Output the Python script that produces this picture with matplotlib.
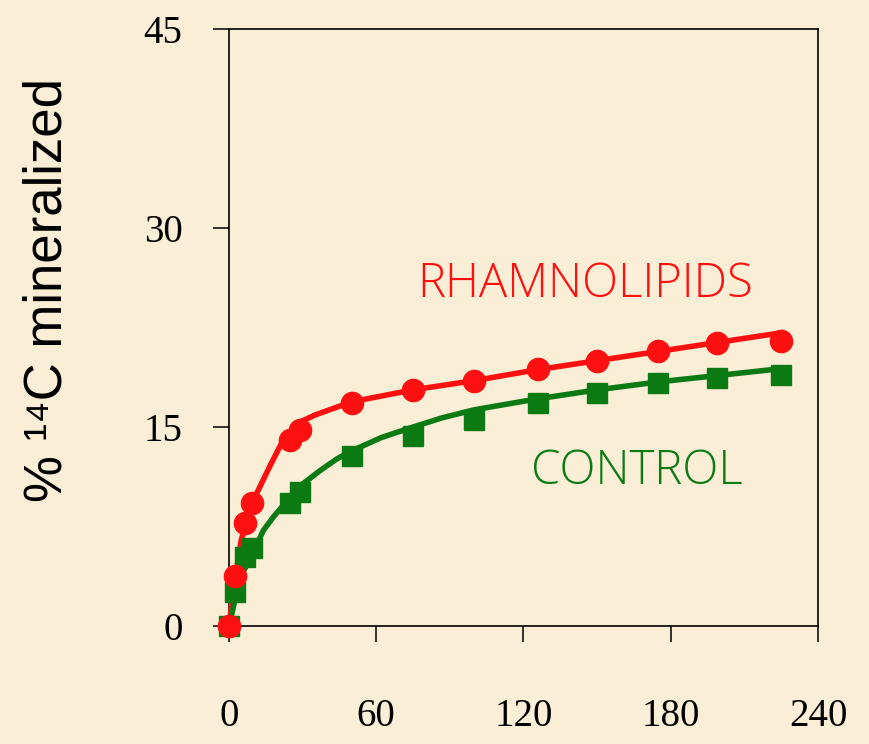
import matplotlib.pyplot as plt

# measured points (% 14C mineralized vs time)
t_pts = [0, 2.4, 6.5, 9.4, 24.9, 28.9, 50, 75, 100, 126, 150, 175, 199, 225]
rham_pts = [0, 3.8, 7.8, 9.3, 14.0, 14.8, 16.8, 17.8, 18.5, 19.4, 20.0, 20.7, 21.3, 21.5]
ctrl_pts = [0, 2.6, 5.2, 5.9, 9.3, 10.1, 12.8, 14.3, 15.5, 16.8, 17.6, 18.3, 18.7, 18.9]

# fitted curves
t_rham_fit = [0, 2, 5, 10, 16, 22, 28, 35, 50, 75, 100, 125, 150, 175, 200, 225]
rham_fit = [0, 3.0, 6.5, 9.5, 11.8, 14.0, 15.3, 15.9, 16.9, 17.8, 18.5, 19.3, 20.0, 20.7, 21.4, 22.1]
t_ctrl_fit = [0, 2, 5, 10, 14, 18, 24, 30, 37, 44, 50, 62, 75, 87, 100, 125, 150, 175, 200, 225]
ctrl_fit = [0, 1.6, 3.8, 5.6, 7.2, 8.2, 9.5, 10.7, 11.7, 12.6, 13.2, 14.2, 15.0, 15.7, 16.3, 17.1, 17.8, 18.4, 18.9, 19.4]

x_ticks = [0, 60, 120, 180, 240]
y_ticks = [0, 15, 30, 45]

bg = '#FAEFD6'
red = '#FF1010'
green = '#0B7A12'

fig = plt.figure(figsize=(8.69, 7.44), dpi=100, facecolor=bg)
ax = fig.add_axes([0.2635, 0.1586, 0.6778, 0.8024])
ax.set_facecolor('none')

ax.plot(t_rham_fit, rham_fit, color=red, lw=4, clip_on=False, zorder=3)
ax.plot(t_ctrl_fit, ctrl_fit, color=green, lw=4, clip_on=False, zorder=3)
ax.plot(t_pts, ctrl_pts, 's', color=green, ms=15, clip_on=False, zorder=4)
ax.plot(t_pts, rham_pts, 'o', color=red, ms=16, clip_on=False, zorder=5)

ax.set_xlim(0, 240)
ax.set_ylim(0, 45)
ax.set_xticks(x_ticks)
ax.set_yticks(y_ticks)
ax.set_xticklabels([str(v) for v in x_ticks], fontsize=28, family='Liberation Serif')
ax.set_yticklabels([str(v) for v in y_ticks], fontsize=28, family='Liberation Serif')
ax.tick_params(axis='x', direction='out', length=11.5, width=1.1, pad=40)
ax.tick_params(axis='y', direction='out', length=11.5, width=1.1, pad=22)
for s in ax.spines.values():
    s.set_linewidth(1.2)

fig.text(0.055, 0.61, '% \u00b9\u2074C mineralized', fontsize=38, rotation=90,
         family=['Liberation Sans', 'DejaVu Sans'], ha='center', va='center')

ax.text(145, 25.7, 'RHAMNOLIPIDS', color=red, fontsize=34, family='Open Sans',
        weight='light', ha='center', va='center')
ax.text(166, 11.6, 'CONTROL', color=green, fontsize=34, family='Open Sans',
        weight='light', ha='center', va='center')

fig.savefig('out.png', dpi=100, facecolor=bg)
